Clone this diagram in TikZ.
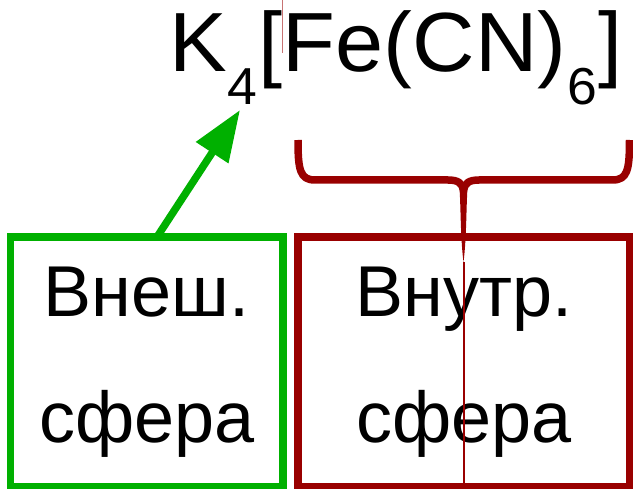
\documentclass[tikz,border=0pt]{standalone}
\usepackage{fontspec}
\setmainfont{Liberation Sans}
\usetikzlibrary{arrows.meta}
\definecolor{sphgreen}{RGB}{0,176,0}
\definecolor{sphred}{RGB}{153,0,0}
\newcommand\chemsub[1]{\kern1pt\raisebox{-33pt}{\fontsize{52}{52}\selectfont #1}\kern1pt}
\begin{document}
\begin{tikzpicture}[x=1pt,y=-1pt,
  frame/.style={draw=#1,line width=7.5pt,inner sep=0pt,minimum height=250pt},
  caption/.style={anchor=base,inner sep=0pt,font=\fontsize{72}{72}\selectfont},
  pointer/.style={draw=sphgreen,line width=7.5pt,-{Triangle[length=51pt,width=37pt]}},
  brace/.style={draw=sphred,line width=7.5pt,line join=round}]
\useasboundingbox (0,0) rectangle (633,489);

% the two spheres
\node[frame=sphgreen,minimum width=272.5pt] (outer) at (146.75,362) {};
\node[frame=sphred,minimum width=331.5pt] (inner) at (463.75,362) {};

\node[caption] (outer1) at (146.75,317) {Внеш.};
\node[caption] (outer2) at (146.75,443) {сфера};
\node[caption] (inner1) at (463.75,317) {Внутр.};
\node[caption] (inner2) at (463.75,443) {сфера};

% the formula
\node[anchor=base west,inner sep=0pt,font=\fontsize{84}{84}\selectfont] (formula) at (169,72)
  {\scalebox{1.03}[1]{K\chemsub{4}[Fe(CN)\chemsub{6}]}};

% arrow to the outer-sphere ion
\coordinate (arrstart) at (157,237);
\coordinate (arrtip) at (240,110);
\draw[pointer] (arrstart) -- (arrtip);

% brace over the complex ion
\coordinate (braceL) at (298,140);
\coordinate (braceR) at (629.5,140);
\coordinate (bracetip) at (463.5,262);
\draw[brace] (braceL) .. controls (298,170) and (300,180) .. (315,180) -- (448,180)
  .. controls (458,180) and (462,183) .. (463.5,190);
\draw[brace] (braceR) .. controls (629.5,170) and (627.5,180) .. (612.5,180) -- (479,180)
  .. controls (469,180) and (465,183) .. (463.5,190);
\fill[sphred] (459,183) .. controls (461,200) and (460,235) .. (bracetip)
  .. controls (467,235) and (466,200) .. (468,183) -- cycle;
\draw[sphred,line width=2pt] (bracetip) -- (inner.south -| bracetip);

% thin stray stroke over the bracket
\coordinate (strokeA) at (282,0);
\coordinate (strokeB) at (282,53);
\draw[sphred!55!white,line width=1pt] (strokeA) -- (strokeB);
\end{tikzpicture}
\end{document}
